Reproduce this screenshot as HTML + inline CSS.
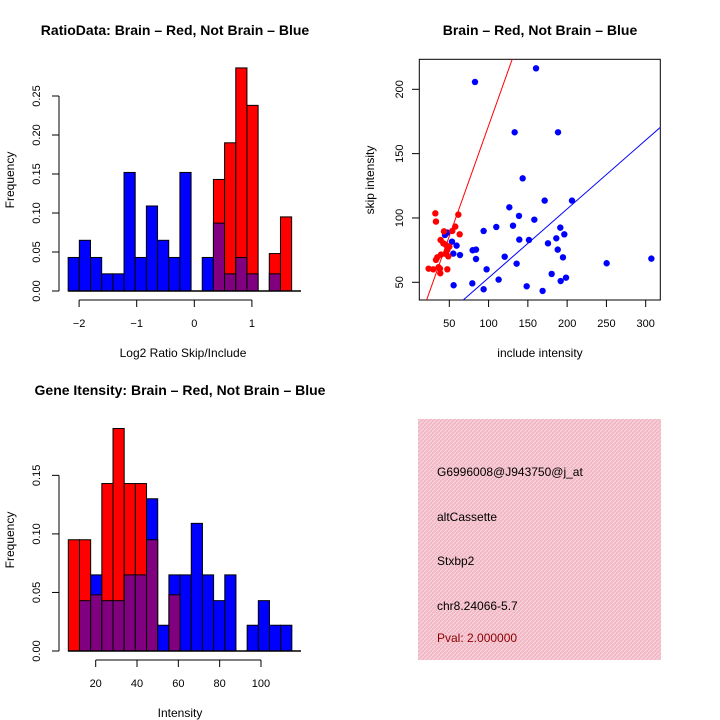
<!DOCTYPE html>
<html><head><meta charset="utf-8"><style>
body{margin:0;background:#fff}
svg{display:block;font-family:"Liberation Sans",sans-serif}
</style></head><body>
<svg id="c" width="720" height="720" viewBox="0 0 720 720">
<defs>
<pattern id="hatch" width="4" height="4" patternUnits="userSpaceOnUse">
<rect width="4" height="4" fill="#f2b8c6"/>
<path d="M0,4 L4,0" stroke="#f8d6de" stroke-width="1"/>
</pattern>
</defs>
<text x="175" y="35" font-size="14" font-weight="bold" text-anchor="middle">RatioData: Brain – Red, Not Brain – Blue</text>
<text x="540" y="35" font-size="14" font-weight="bold" text-anchor="middle">Brain – Red, Not Brain – Blue</text>
<text x="180" y="395" font-size="14" font-weight="bold" text-anchor="middle">Gene Itensity: Brain – Red, Not Brain – Blue</text>
<text x="183" y="357" font-size="12" text-anchor="middle">Log2 Ratio Skip/Include</text>
<text x="14" y="180" font-size="12" text-anchor="middle" transform="rotate(-90 14 180)">Frequency</text>
<text x="540" y="357" font-size="12" text-anchor="middle">include intensity</text>
<text x="374" y="180" font-size="12" text-anchor="middle" transform="rotate(-90 374 180)">skip intensity</text>
<text x="180" y="717" font-size="12" text-anchor="middle">Intensity</text>
<text x="14" y="540" font-size="12" text-anchor="middle" transform="rotate(-90 14 540)">Frequency</text>
<rect x="418" y="419" width="243" height="241" fill="url(#hatch)"/>
<g font-size="12">
<text x="437" y="476">G6996008@J943750@j_at</text>
<text x="437" y="521">altCassette</text>
<text x="437" y="565">Stxbp2</text>
<text x="437" y="610">chr8.24066-5.7</text>
<text x="437" y="642" fill="#8b0000">Pval: 2.000000</text>
</g>
</svg>
<script>
// ---- ratio histogram data ----
const ratioBinStart = -2.19, ratioBinWidth = 0.194;
const ratioBlue = [0.043,0.065,0.043,0.022,0.022,0.152,0.043,0.109,0.065,0.043,0.152,0,0.043,0.087,0.022,0.043,0.022,0,0.022,0];
const ratioRed  = [0,0,0,0,0,0,0,0,0,0,0,0,0,0.143,0.19,0.286,0.238,0,0.048,0.095];
const ratioXTicks = [-2,-1,0,1];
const ratioYTicks = ["0.00","0.05","0.10","0.15","0.20","0.25"];
// ---- intensity histogram data ----
const intBinStart = 6.74, intBinWidth = 5.41;
const intBlue = [0,0.043,0.065,0.043,0.043,0.065,0.065,0.13,0.022,0.065,0.065,0.109,0.065,0.043,0.065,0,0.022,0.043,0.022,0.022];
const intRed  = [0.095,0.095,0.048,0.143,0.19,0.143,0.143,0.095,0,0.048,0,0,0,0,0,0,0,0,0,0];
const intXTicks = [20,40,60,80,100];
const intYTicks = ["0.00","0.05","0.10","0.15"];
// ---- scatter data ----
const blueX = [82.7,160.4,133.2,188.4,143.4,206.2,171.4,126.4,138.7,158.2,131.1,109.8,93.7,191.3,196.4,186.2,175.6,139.1,151.4,188,79.7,84,194.7,120.5,84,135.7,63.6,55.1,59.3,53.4,44.5,47.5,97.5,79.3,93.7,112.8,148.5,168.8,180.3,191.8,198.6,250.3,307.2,55.5];
const blueY = [205.7,216.3,166.6,166.6,130.8,113.5,113.5,108.3,101.6,98.7,94,93,89.9,92.5,87.3,84.2,80.3,83.2,82.9,75.4,74.9,75.4,69.4,69.9,68.1,64.5,71.2,72.3,78.5,81.6,86.8,88.6,60.1,49.2,44.6,52.1,46.9,43.3,56.5,51,53.6,64.8,68.4,47.7];
const redX = [32.2,33,61.5,63.2,57.6,53.8,43.2,38.9,45.8,47.5,48.7,45.8,39.4,34.7,33,38.1,36.4,38.5,29.6,23.7,47.5,50,42.4];
const redY = [103.6,97.2,102.6,87.3,93.3,89.9,89.6,82.9,79,75.1,70.2,72,71.5,69.4,67.4,60.6,61.7,57,60.1,60.6,60.1,77.7,80.3];
const redSlope = 1.717, blueSlope = 0.535;
const scatterXTicks = [50,100,150,200,250,300];
const scatterYTicks = [50,100,150,200];

const svg = document.getElementById('c');
const NS = 'http://www.w3.org/2000/svg';
function mk(tag, attrs, parent){
  const e = document.createElementNS(NS, tag);
  for (const k in attrs) e.setAttribute(k, attrs[k]);
  (parent||svg).appendChild(e);
  return e;
}

function hist(prefix, start, width, blue, red, xTicks, yTicks, xs, ys, baseY, axisY) {
  const g = mk('g', {});
  
  
  for (let i = 0; i < blue.length; i++) {
    const x0 = xs(start + i*width), x1 = xs(start + (i+1)*width);
    const b = blue[i], r = red[i];
    const hi = Math.max(b, r), lo = Math.min(b, r);
    if (hi > 0) {
      const rc = mk('rect', {x:x0, y:ys(hi), width:x1-x0, height:ys(0)-ys(hi), fill: b>=r ? '#0000ff' : '#ff0000', stroke:'#000', 'stroke-width':1}, g);
      
      
    }
    if (lo > 0) {
      const pc = mk('rect', {x:x0, y:ys(lo), width:x1-x0, height:ys(0)-ys(lo), fill:'#800080', stroke:'#000', 'stroke-width':1}, g);
      
      
    }
  }
  mk('line', {x1:xs(start), x2:301, y1:ys(0), y2:ys(0), stroke:'#000', 'stroke-width':1.5}, g);
  // y axis
  const yv = yTicks.map(Number);
  const ya = mk('line', {x1:59, x2:59, y1:ys(yv[0]), y2:ys(yv[yv.length-1]), stroke:'#000'}, g);
  
  
  yTicks.forEach(t => {
    const y = ys(Number(t));
    mk('line', {x1:52, x2:59, y1:y, y2:y, stroke:'#000'}, g);
    const tx = mk('text', {x:40, y:y, 'font-size':11, 'text-anchor':'middle', transform:`rotate(-90 40 ${y})`}, g);
    tx.textContent = t;
    
    
  });
  const xa = mk('line', {x1:xs(xTicks[0]), x2:xs(xTicks[xTicks.length-1]), y1:axisY, y2:axisY, stroke:'#000'}, g);
  
  
  xTicks.forEach(t => {
    const x = xs(t);
    mk('line', {x1:x, x2:x, y1:axisY, y2:axisY+7, stroke:'#000'}, g);
    const tx = mk('text', {x:x, y:axisY+27, 'font-size':11, 'text-anchor':'middle'}, g);
    tx.textContent = t < 0 ? '\u2212' + Math.abs(t) : String(t);
    
    
  });
}

hist('ratio', ratioBinStart, ratioBinWidth, ratioBlue, ratioRed, ratioXTicks, ratioYTicks,
  v => 194.3 + 57.6*v, v => 291 - 780*v, 291, 300);
hist('intensity', intBinStart, intBinWidth, intBlue, intRed, intXTicks, intYTicks,
  v => 95.7 + (v-20)*2.066, v => 651 - 1171*v, 651, 660);

// scatter
const sx = v => 449.3 + (v-50)*0.7856;
const sy = v => 282.3 - (v-50)*1.2867;
const sg = mk('g', {});


mk('clipPath', {id:'sc'}, sg);
mk('rect', {x:419.3, y:59.3, width:241, height:240.7}, sg.lastChild);
const box = mk('rect', {x:419.3, y:59.3, width:241, height:240.7, fill:'none', stroke:'#000'}, sg);


const pts = mk('g', {'clip-path':'url(#sc)'}, sg);
for (let i = 0; i < blueX.length; i++) {
  const c = mk('circle', {cx:sx(blueX[i]), cy:sy(blueY[i]), r:3.2, fill:'#0000ff'}, pts);
  
  
}
for (let i = 0; i < redX.length; i++) {
  const c = mk('circle', {cx:sx(redX[i]), cy:sy(redY[i]), r:3.2, fill:'#ff0000'}, pts);
  
  
}
const rl = mk('line', {x1:sx(0), y1:sy(0), x2:sx(400), y2:sy(400*redSlope), stroke:'#ff0000', 'stroke-width':1}, pts);


const bl = mk('line', {x1:sx(0), y1:sy(0), x2:sx(400), y2:sy(400*blueSlope), stroke:'#0000ff', 'stroke-width':1}, pts);


scatterXTicks.forEach(t => {
  const x = sx(t);
  mk('line', {x1:x, x2:x, y1:300, y2:307, stroke:'#000'}, sg);
  const tx = mk('text', {x:x, y:327, 'font-size':11, 'text-anchor':'middle'}, sg);
  tx.textContent = t;
  
  
});
scatterYTicks.forEach(t => {
  const y = sy(t);
  mk('line', {x1:412, x2:419.3, y1:y, y2:y, stroke:'#000'}, sg);
  const tx = mk('text', {x:403, y:y, 'font-size':11, 'text-anchor':'middle', transform:`rotate(-90 403 ${y})`}, sg);
  tx.textContent = t;
  
  
});
</script>
</body></html>
